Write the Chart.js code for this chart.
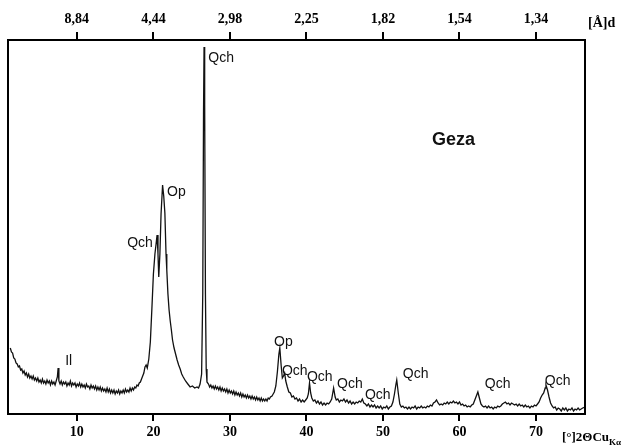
<!DOCTYPE html>
<html>
<head>
<meta charset="utf-8">
<script src="https://cdn.jsdelivr.net/npm/chart.js@4/dist/chart.umd.min.js"></script>
<style>
html,body{margin:0;padding:0;background:#fff;}
#wrap{width:630px;height:446px;position:relative;}
</style>
</head>
<body>
<div id="wrap"><canvas id="c" width="630" height="446"></canvas></div>
<script>
// ---- DATA ----
const twoTheta = [
1.30,1.45,1.60,1.75,1.90,2.05,2.20,2.35,2.50,2.65,
2.80,2.95,3.10,3.25,3.40,3.55,3.70,3.85,4.00,4.15,
4.30,4.45,4.60,4.75,4.90,5.05,5.20,5.35,5.50,5.65,
5.80,5.95,6.10,6.25,6.40,6.55,6.70,6.85,7.00,7.15,
7.30,7.45,7.55,7.65,7.80,7.95,8.10,8.25,8.40,8.55,
8.70,8.85,9.00,9.15,9.30,9.45,9.60,9.75,9.90,10.05,
10.20,10.35,10.50,10.65,10.80,10.95,11.10,11.25,11.40,11.55,
11.70,11.85,12.00,12.15,12.30,12.45,12.60,12.75,12.90,13.05,
13.20,13.35,13.50,13.65,13.80,13.95,14.10,14.25,14.40,14.55,
14.70,14.85,15.00,15.15,15.30,15.45,15.60,15.75,15.90,16.05,
16.20,16.35,16.50,16.65,16.80,16.95,17.10,17.25,17.40,17.55,
17.70,17.85,18.00,18.15,18.30,18.45,18.60,18.75,18.90,19.05,
19.2,19.4,19.6,19.8,20.0,20.2,20.35,20.48,20.6,20.7,
20.85,21.0,21.2,21.35,21.5,21.65,21.75,21.9,22.05,22.2,
22.35,22.5,22.7,22.9,23.1,23.3,23.5,23.7,23.9,24.2,
24.5,24.8,25.1,25.4,25.7,25.9,26.1,26.3,26.45,26.55,
26.62,26.7,26.8,26.9,27.0,27.2,27.35,27.5,27.65,27.8,
27.95,28.1,28.25,28.4,28.55,28.7,28.85,29.0,29.15,29.3,
29.45,29.6,29.75,29.9,30.05,30.2,30.35,30.5,30.65,30.8,
30.95,31.1,31.25,31.4,31.55,31.7,31.85,32.0,32.15,32.3,
32.45,32.6,32.75,32.9,33.05,33.2,33.35,33.5,33.65,33.8,
33.95,34.1,34.25,34.4,34.55,34.7,34.85,35.0,35.15,35.3,
35.5,35.65,35.8,36.0,36.2,36.4,36.52,36.7,36.85,37.0,
37.15,37.3,37.5,37.7,37.9,38.1,38.3,38.5,38.7,38.9,
39.1,39.3,39.5,39.7,39.9,40.1,40.25,40.4,40.55,40.7,
40.9,41.1,41.3,41.5,41.7,41.9,42.1,42.3,42.5,42.7,
42.9,43.1,43.3,43.55,43.75,43.9,44.1,44.3,44.5,44.7,
44.9,45.1,45.3,45.5,45.7,45.9,46.1,46.3,46.5,46.7,
46.9,47.1,47.3,47.5,47.7,47.9,48.1,48.3,48.5,48.7,
48.9,49.1,49.3,49.5,49.7,49.9,50.1,50.3,50.5,50.7,
50.9,51.1,51.3,51.5,51.7,51.8,52.0,52.2,52.4,52.6,
52.8,53.0,53.2,53.4,53.6,53.8,54.0,54.2,54.4,54.6,
54.8,55.0,55.2,55.4,55.6,55.8,56.0,56.2,56.4,56.6,
56.8,57.0,57.2,57.4,57.6,57.8,58.0,58.2,58.4,58.6,
58.8,59.0,59.2,59.4,59.6,59.8,60.0,60.2,60.4,60.6,
60.8,61.0,61.2,61.4,61.6,61.8,62.0,62.2,62.4,62.6,
62.8,63.0,63.2,63.4,63.6,63.8,64.0,64.2,64.4,64.6,
64.8,65.0,65.2,65.4,65.6,65.8,66.0,66.2,66.4,66.6,
66.8,67.0,67.2,67.4,67.6,67.8,68.0,68.2,68.4,68.6,
68.8,69.0,69.2,69.4,69.6,69.8,70.0,70.2,70.4,70.6,
70.8,71.0,71.2,71.3,71.5,71.7,71.9,72.1,72.3,72.5,
72.7,72.9,73.1,73.3,73.5,73.7,73.9,74.1,74.3,74.5,
74.7,74.9,75.1,75.3,75.5,75.7,75.9,76.1,76.4
];
const intensity = [
66,62,61,56,55,51,50,47,48,44,
45,41,43,39,41,37,40,36,38,35,
38,34,36,33,36,32,34,31,35,31,
33,30,34,31,33,29,33,30,32,29,
33,37,46,33,30,33,29,32,30,32,
28,31,29,33,28,31,29,31,27,30,
28,31,27,30,27,29,26,30,27,28,
25,29,26,28,25,28,24,27,24,27,
23,26,23,25,22,26,22,25,21,24,
21,24,20,23,21,24,20,23,21,24,
21,25,22,24,22,26,23,26,24,27,
26,29,28,31,32,35,38,41,47,49,
46,55,72,105,140,160,170,179,160,137,
160,200,229,218,201,160,144,120,104,93,
84,74,66,60,54,49,45,40,37,33,
30,27,28,26,27,26,30,40,120,300,
367,310,120,45,32,30,27,29,26,28,
25,28,25,27,24,27,23,26,23,25,
22,25,21,24,21,23,20,23,19,22,
19,21,18,21,17,20,17,19,16,19,
16,18,15,18,15,17,14,17,14,16,
13,16,13,15,13,15,13,16,15,17,
18,20,22,28,42,60,66,48,36,38,
41,33,27,22,21,17,18,15,16,13,
15,12,14,12,14,16,20,31,21,16,
13,14,11,13,10,12,9,11,9,11,
10,12,15,26,17,14,15,12,14,13,
15,12,14,11,13,10,12,10,12,11,
13,12,15,11,10,8,10,7,9,7,
9,6,8,6,8,5,7,6,8,5,
7,8,12,20,30,34,21,10,7,8,
6,7,5,7,5,7,6,8,5,7,
6,8,6,7,6,8,7,9,8,11,
12,14,11,9,10,9,11,10,12,10,
12,11,13,11,12,10,12,9,10,8,
9,7,8,7,9,10,14,18,22,16,
10,8,7,8,6,8,6,7,5,7,
6,8,7,8,10,11,12,10,11,9,
11,10,9,10,8,10,8,9,7,9,
7,8,6,8,7,9,8,10,12,16,
19,21,26,29,24,17,11,8,6,7,
4,6,5,3,6,4,6,3,5,4,
6,3,5,4,6,4,5,6,7
];
const bottomTicks = [10,20,30,40,50,60,70];
const topTickLabels = ['8,84','4,44','2,98','2,25','1,82','1,54','1,34'];
const peakTexts = ['Il','Qch','Op','Qch','Op','Qch','Qch','Qch','Qch','Qch','Qch','Qch'];
const peakTheta = [8.47,27.17,21.78,16.57,35.76,36.8,40.07,44.0,47.64,52.6,63.3,71.14];
const peakLevel = [49,352,218,167,68,39,33,26,15,36,26,29];
const sampleName = 'Geza';
const sampleTheta = 56.4, sampleLevel = 269;

// ---- CHART ----
const points = twoTheta.map((t,i)=>({x:t,y:intensity[i]}));

const overlay = {
  id:'overlay',
  afterDraw(chart){
    const {ctx, chartArea:a, scales:{x,y}} = chart;
    ctx.save();
    ctx.strokeStyle='#000'; ctx.lineWidth=2;
    ctx.strokeRect(a.left, a.top, a.right-a.left, a.bottom-a.top);
    ctx.fillStyle='#111';
    ctx.font='14px "Liberation Sans", Arial, sans-serif';
    ctx.textBaseline='alphabetic'; ctx.textAlign='left';
    peakTexts.forEach((t,i)=>{
      ctx.fillText(t, x.getPixelForValue(peakTheta[i]), y.getPixelForValue(peakLevel[i]));
    });
    ctx.font='bold 18px "Liberation Sans", Arial, sans-serif';
    ctx.fillText(sampleName, x.getPixelForValue(sampleTheta), y.getPixelForValue(sampleLevel));
    ctx.fillStyle='#000';
    ctx.font='bold 14px "Liberation Serif", "Times New Roman", serif';
    ctx.fillText('[Å]d', a.right+3, 27);
    ctx.font='bold 13px "Liberation Serif", "Times New Roman", serif';
    const base = 441;
    const s1 = '[°]2ΘCu';
    ctx.fillText(s1, a.right-23, base);
    const w1 = ctx.measureText(s1).width;
    ctx.font='bold 9px "Liberation Serif", "Times New Roman", serif';
    ctx.fillText('Kα', a.right-23+w1, base+4);
    ctx.restore();
  }
};

new Chart(document.getElementById('c'), {
  type:'line',
  data:{datasets:[{data:points, borderColor:'#111', borderWidth:1.3, pointRadius:0, tension:0, fill:false}]},
  options:{
    responsive:false, animation:false,
    layout:{padding:{left:8,right:45,top:0,bottom:0}},
    plugins:{legend:{display:false}, tooltip:{enabled:false}},
    scales:{
      x:{type:'linear', position:'bottom', min:1, max:76.4,
        afterBuildTicks(ax){ ax.ticks = bottomTicks.map(v=>({value:v})); },
        afterFit(ax){ ax.height = 32; },
        border:{display:false},
        grid:{display:true, drawOnChartArea:false, drawTicks:true, tickLength:7, color:'#000', lineWidth:2},
        ticks:{color:'#000', padding:3, maxRotation:0, autoSkip:false,
          font:{family:'"Liberation Serif", "Times New Roman", serif', size:14, weight:'bold'}}
      },
      x2:{type:'linear', position:'top', min:1, max:76.4,
        afterBuildTicks(ax){ ax.ticks = bottomTicks.map(v=>({value:v})); },
        afterFit(ax){ ax.height = 40; },
        border:{display:false},
        grid:{display:true, drawOnChartArea:false, drawTicks:true, tickLength:8, color:'#000', lineWidth:2},
        ticks:{color:'#000', padding:4, maxRotation:0, autoSkip:false,
          callback:(v,i)=>topTickLabels[i],
          font:{family:'"Liberation Serif", "Times New Roman", serif', size:14, weight:'bold'}}
      },
      y:{display:false, min:0, max:374}
    }
  },
  plugins:[overlay]
});
</script>
</body>
</html>
